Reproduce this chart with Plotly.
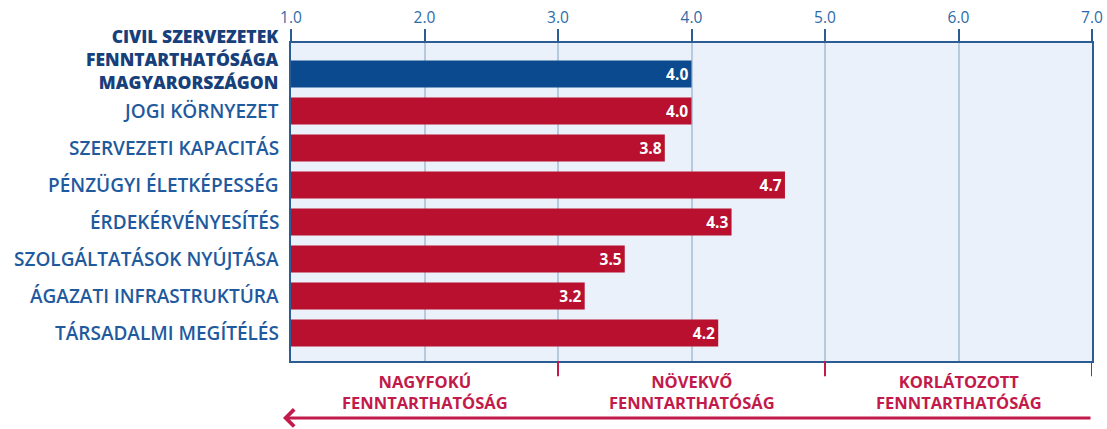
import plotly.graph_objects as go

categories = [
    "CIVIL SZERVEZETEK<br>FENNTARTHATÓSÁGA<br>MAGYARORSZÁGON",
    "JOGI KÖRNYEZET",
    "SZERVEZETI KAPACITÁS",
    "PÉNZÜGYI ÉLETKÉPESSÉG",
    "ÉRDEKÉRVÉNYESÍTÉS",
    "SZOLGÁLTATÁSOK NYÚJTÁSA",
    "ÁGAZATI INFRASTRUKTÚRA",
    "TÁRSADALMI MEGÍTÉLÉS",
]
values = [4.0, 4.0, 3.8, 4.7, 4.3, 3.5, 3.2, 4.2]
tick_vals = [1, 2, 3, 4, 5, 6, 7]
tick_text = ["1.0", "2.0", "3.0", "4.0", "5.0", "6.0", "7.0"]
zone_centers = [2, 4, 6]
zone_labels = ["NAGYFOKÚ<br>FENNTARTHATÓSÁG", "NÖVEKVŐ<br>FENNTARTHATÓSÁG", "KORLÁTOZOTT<br>FENNTARTHATÓSÁG"]
zone_bounds = [3, 5, 7]

BLUE_BAR = "#0B4A8F"
RED_BAR = "#B8102E"
RED_TXT = "#C21A4A"
FRAME = "#2B5C94"
LABEL_BLUE = "#1F5A9E"
FONT = "Open Sans"

colors = [BLUE_BAR] + [RED_BAR] * (len(values) - 1)
ykeys = [f"c{i}" for i in range(len(categories))]

fig = go.Figure()
fig.add_trace(go.Bar(
    y=ykeys, x=values, orientation="h",
    marker=dict(color=colors, line=dict(width=0)),
    width=0.73,
    text=[f"{v:.1f}" for v in values],
    textposition="inside", insidetextanchor="end",
    textfont=dict(family=FONT, size=17, color="white", weight="bold"),
    cliponaxis=True,
    hoverinfo="skip",
))

annotations = []
for i, (k, c) in enumerate(zip(ykeys, categories)):
    first = i == 0
    annotations.append(dict(
        x=0, xref="paper", xanchor="right", xshift=-10,
        y=k, yref="y", yanchor="middle", yshift=15 if first else 0,
        text=c, showarrow=False, align="right",
        font=dict(family=FONT, size=17.5 if first else 19,
                  color="#17407A" if first else LABEL_BLUE,
                  weight=800 if first else 600),
    ))
for xc, t in zip(zone_centers, zone_labels):
    annotations.append(dict(
        x=xc, xref="x", y=-0.022, yref="paper", yanchor="top",
        text=t, showarrow=False, align="center",
        font=dict(family=FONT, size=16.5, color=RED_TXT, weight="bold"),
    ))
# arrow pointing left
annotations.append(dict(
    x=0.94, xref="x", y=-0.179, yref="paper",
    ax=7, axref="x", ay=0, ayref="pixel",
    text="", showarrow=True, arrowhead=4, arrowsize=1.1, arrowwidth=3,
    arrowcolor=RED_TXT, standoff=0, startstandoff=0,
))

shapes = []
for b in zone_bounds:
    shapes.append(dict(type="line", xref="x", yref="paper", x0=b, x1=b, y0=0, y1=-0.048,
                       line=dict(color=RED_TXT, width=2)))

fig.update_layout(
    width=1107, height=429,
    margin=dict(l=291, r=15, t=43, b=68, autoexpand=False),
    paper_bgcolor="white", plot_bgcolor="#EAF1FA",
    showlegend=False,
    xaxis=dict(
        range=[1, 7], side="top", tickvals=tick_vals, ticktext=tick_text,
        ticks="outside", ticklen=12, tickwidth=2, tickcolor=FRAME,
        tickfont=dict(family=FONT, size=15.5, color="#2E6BA6"),
        showgrid=True, gridcolor="#B7C9DD", gridwidth=2,
        showline=True, linecolor=FRAME, linewidth=2, mirror=True,
        zeroline=False, fixedrange=True, automargin=False,
    ),
    yaxis=dict(
        categoryorder="array", categoryarray=ykeys,
        range=[7.76, -0.84], showticklabels=False, showgrid=False,
        showline=True, linecolor=FRAME, linewidth=2, mirror=True,
        ticks="", zeroline=False, fixedrange=True, automargin=False,
    ),
    annotations=annotations,
    shapes=shapes,
)

fig.write_html(
    "out.html",
    config={"displayModeBar": False, "staticPlot": True},
    post_script="document.body.style.margin='0';document.documentElement.style.overflow='hidden';",
)
